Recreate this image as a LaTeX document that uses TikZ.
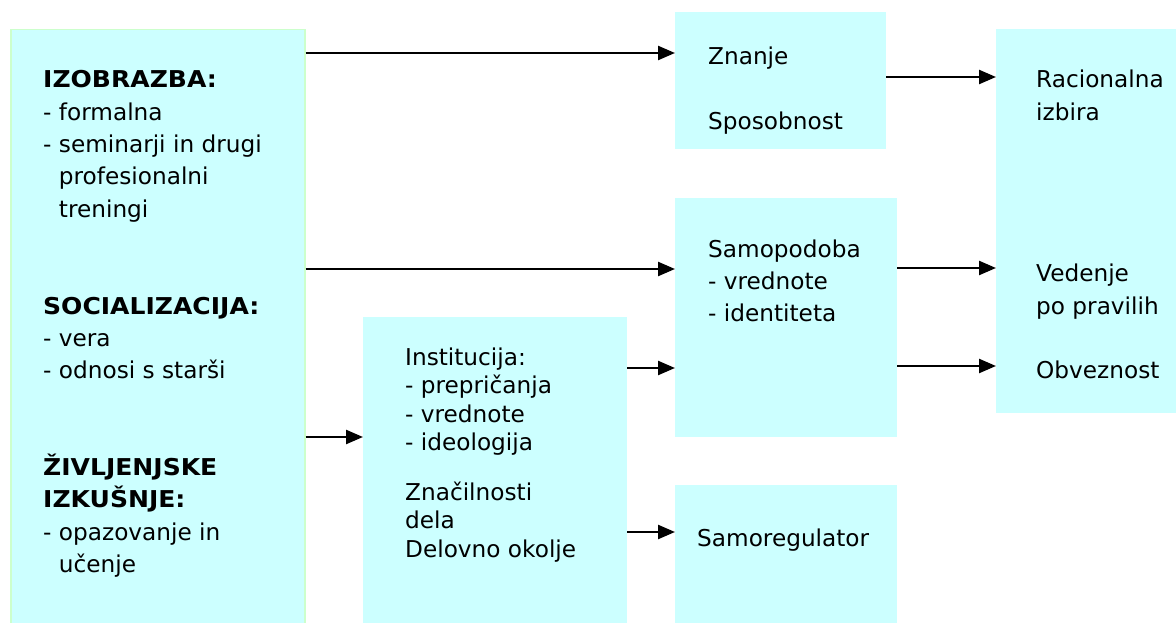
\documentclass[tikz,border=0pt]{standalone}
\usepackage{fontspec}
\setmainfont{DejaVu Sans}[BoldFeatures={FakeStretch=1.08}]
\usetikzlibrary{arrows.meta}
\definecolor{boxfill}{HTML}{CCFFFF}
\definecolor{boxline}{HTML}{CCFFCC}
% a column of lines whose baseline is that of its first line
\newcommand{\textlines}[1]{\begin{tabular}[t]{@{}l@{}}#1\end{tabular}}
\newcommand{\ind}{\hphantom{- }}
\begin{document}
\begin{tikzpicture}[x=1pt,y=-1pt,
  box/.style={fill=boxfill, draw=none, inner sep=0pt, anchor=north west},
  txt/.style={anchor=base west, inner sep=0pt, font=\fontsize{23.2}{32.3}\selectfont},
  flow/.style={line width=2.4pt, -{Triangle[length=17pt,width=14pt]}}]
\useasboundingbox (0,0) rectangle (1176,623);

% boxes
\node[box, draw=boxline, line width=1.5pt, minimum width=294pt, minimum height=594pt] (L) at (10,29) {};
\node[box, minimum width=211pt, minimum height=137pt] (Zn) at (675,12) {};
\node[box, minimum width=180pt, minimum height=384pt] (R) at (996,29) {};
\node[box, minimum width=222pt, minimum height=239pt] (Sa) at (675,198) {};
\node[box, minimum width=264pt, minimum height=306pt] (In) at (363,317) {};
\node[box, minimum width=222pt, minimum height=138pt] (Sr) at (675,485) {};

% texts
\node[txt] (Ltxt) at (43,88) {\textlines{\textbf{IZOBRAZBA:}\\- formalna\\- seminarji in drugi\\\ind profesionalni\\\ind treningi\\\\\\
  \textbf{SOCIALIZACIJA:}\\- vera\\- odnosi s starši\\\\\\
  \textbf{ŽIVLJENJSKE}\\\textbf{IZKUŠNJE:}\\- opazovanje in\\\ind učenje}};
\node[txt] (Zntxt) at (708,65) {\textlines{Znanje\\\\Sposobnost}};
\node[txt] (Rtxt) at (1036,88) {\textlines{Racionalna\\izbira\\\\\\\\\\Vedenje\\po pravilih\\\\Obveznost}};
\node[txt] (Satxt) at (708,257) {\textlines{Samopodoba\\- vrednote\\- identiteta}};
\node[txt, font=\fontsize{23.2}{28.5}\selectfont] (Intxt) at (405,365) {\textlines{Institucija:\\- prepričanja\\- vrednote\\- ideologija}};
\node[txt, font=\fontsize{23.2}{28.5}\selectfont] (Intxt2) at (405,500) {\textlines{Značilnosti\\dela\\Delovno okolje}};
\node[txt] (Srtxt) at (697,546) {Samoregulator};

% rows of the connectors
\coordinate (r1) at (0,53);
\coordinate (r2) at (0,269);
\coordinate (r3) at (0,437);
\coordinate (r4) at (0,77);
\coordinate (r5) at (0,268);
\coordinate (r6) at (0,366);
\coordinate (r7) at (0,368);
\coordinate (r8) at (0,532);

% connectors
\draw[flow] (L.east |- r1) -- (Zn.west |- r1);
\draw[flow] (L.east |- r2) -- (Sa.west |- r2);
\draw[flow] (L.east |- r3) -- (In.west |- r3);
\draw[flow] (Zn.east |- r4) -- (R.west |- r4);
\draw[flow] (Sa.east |- r5) -- (R.west |- r5);
\draw[flow] (Sa.east |- r6) -- (R.west |- r6);
\draw[flow] (In.east |- r7) -- (Sa.west |- r7);
\draw[flow] (In.east |- r8) -- (Sr.west |- r8);
\end{tikzpicture}
\end{document}
